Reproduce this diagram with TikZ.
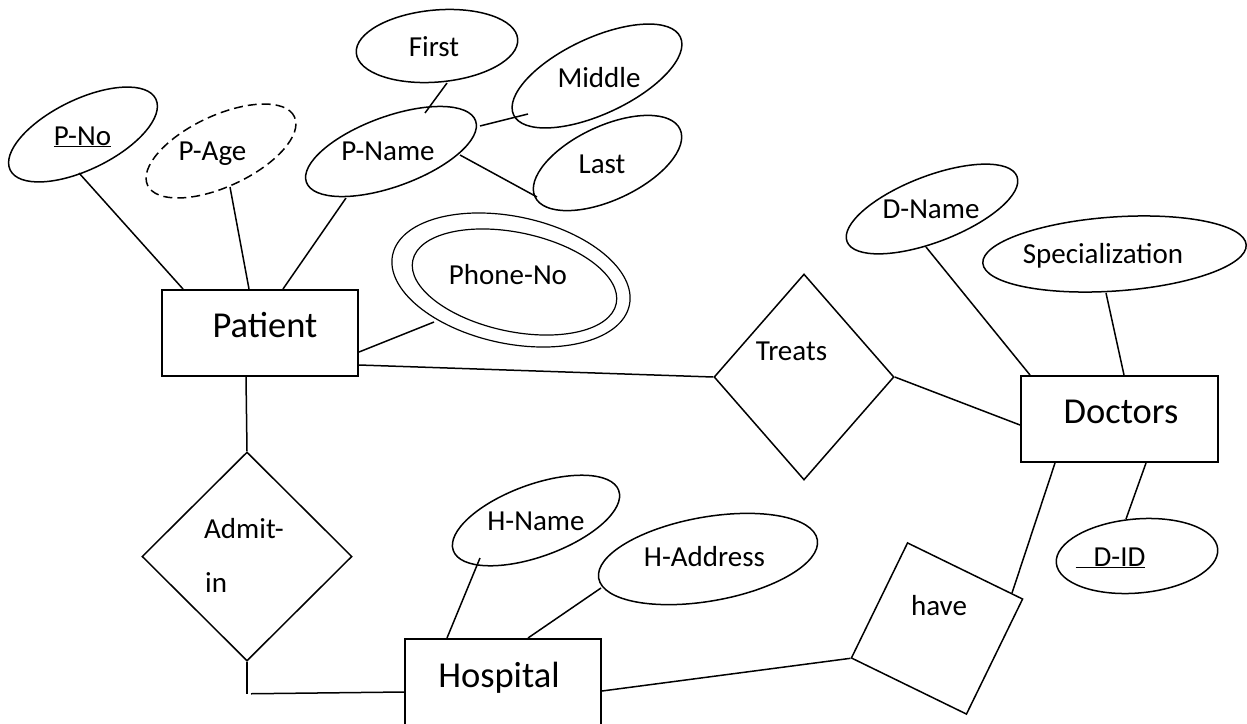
\documentclass[tikz,border=0pt]{standalone}
\usepackage{fontspec}
\setmainfont{Carlito}
\usetikzlibrary{shapes.geometric,calc}
\begin{document}
\begin{tikzpicture}[x=1pt,y=-1pt,
  conn/.style={line width=1.5pt},
  attr/.style={ellipse,draw,line width=1.5pt,inner sep=0pt},
  entity/.style={rectangle,draw,line width=2pt,inner sep=0pt},
  rel/.style={diamond,draw,line width=1.5pt,inner sep=0pt},
  small/.style={font=\fontsize{29pt}{34pt}\selectfont,inner sep=0pt,anchor=base},
  big/.style={font=\fontsize{36.5pt}{42pt}\selectfont,inner sep=0pt,anchor=base},
]
\clip (0,0) rectangle (1247,723);
\fill[white] (0,0) rectangle (1247,723);

% entities
\node[entity,minimum width=196pt,minimum height=86pt] (patient) at (260,333) {};
\node[entity,minimum width=197pt,minimum height=86pt] (doctors) at (1119.5,419) {};
\node[entity,minimum width=196pt,minimum height=120pt] (hospital) at (503,699) {};

% relationships
\node[rel,minimum width=180pt,minimum height=206pt] (treats) at (804,377) {};
\node[rel,minimum width=210pt,minimum height=209pt] (admit) at (247,556.5) {};
\node[draw,rectangle,line width=1.5pt,inner sep=0pt,minimum size=128pt,rotate=-26] (have) at (937,628.5) {};

% attributes
\node[attr,minimum width=162pt,minimum height=70pt,rotate=26] (pno) at (83,134.5) {};
\node[attr,dash pattern=on 9pt off 5pt,minimum width=162pt,minimum height=71pt,rotate=25] (page) at (221,151) {};
\node[attr,minimum width=180pt,minimum height=70pt,rotate=20] (pname) at (391,151.5) {};
\node[attr,minimum width=162pt,minimum height=72pt,rotate=5] (first) at (437,46) {};
\node[attr,minimum width=184pt,minimum height=76pt,rotate=25] (middle) at (597,76) {};
\node[attr,minimum width=160pt,minimum height=74pt,rotate=25] (last) at (607.5,163) {};
\node[ellipse,draw,line width=1.2pt,inner sep=0pt,minimum width=242pt,minimum height=127pt,rotate=-12] (phone) at (511,280) {};
\node[ellipse,draw,line width=1.2pt,inner sep=0pt,minimum width=208pt,minimum height=99pt,rotate=-12] (phonein) at (514.5,282) {};
\node[attr,minimum width=182pt,minimum height=66pt,rotate=21] (dname) at (932,209) {};
\node[attr,minimum width=264pt,minimum height=74pt,rotate=4] (spec) at (1114.5,254) {};
\node[attr,minimum width=176pt,minimum height=72pt,rotate=20] (hname) at (536,520.5) {};
\node[attr,minimum width=222pt,minimum height=84pt,rotate=10] (haddr) at (708,559) {};
\node[attr,minimum width=162pt,minimum height=74pt,rotate=5] (did) at (1137,556) {};

% labels
\node[big] (patient-t) at (265,337) {Patient};
\node[big] (doctors-t) at (1121,423) {Doctors};
\node[big] (hospital-t) at (499,687) {Hospital};
\node[small] (treats-t) at (791.5,360) {Treats};
\node[small,anchor=base west] (admit-t1) at (204,538) {Admit-};
\node[small,anchor=base west] (admit-t2) at (205,592) {in};
\node[small] (have-t) at (939,615) {have};
\node[small] (pno-t) at (82.5,145) {\underline{P-No}};
\node[small] (page-t) at (212.5,160) {P-Age};
\node[small] (pname-t) at (388,160) {P-Name};
\node[small] (first-t) at (434,56) {First};
\node[small] (middle-t) at (599,87) {Middle};
\node[small] (last-t) at (602,173) {Last};
\node[small] (phone-t) at (508,284) {Phone-No};
\node[small] (dname-t) at (931,218) {D-Name};
\node[small] (spec-t) at (1103,263) {Specialization};
\node[small] (did-t) at (1110.5,566) {\underline{\hspace{18pt}D-ID}};
\node[small] (hname-t) at (536,530) {H-Name};
\node[small] (haddr-t) at (704.5,566) {H-Address};

% connectors
\draw[conn] ($(pno.center)+(-4,38.5)$) -- ($(patient.north west)+(22,0)$);
\draw[conn] ($(page.center)+(9,36)$) -- ($(patient.north west)+(88,0)$);
\draw[conn] ($(pname.center)+(-45,46.5)$) -- ($(patient.north west)+(122,0)$);
\draw[conn] ($(first.center)+(10,37)$) -- ($(pname.center)+(34,-38.5)$);
\draw[conn] ($(pname.center)+(89,-25.5)$) -- ($(middle.center)+(-69,38)$);
\draw[conn] ($(pname.center)+(69,3.5)$) -- ($(last.center)+(-70.5,34)$);
\draw[conn] ($(patient.north east)+(0,63)$) -- ($(phone.center)+(-77,42)$);
\draw[conn] ($(patient.north east)+(0,76)$) -- (treats.west);
\draw[conn] ($(patient.south west)+(85,0)$) -- (admit.north);
\draw[conn] (admit.south) -- ++(0,32);
\draw[conn] ($(admit.south)+(4,32)$) -- ($(hospital.north west)+(0,54)$);
\draw[conn] ($(hname.center)+(-56,37.5)$) -- ($(hospital.north west)+(43,0)$);
\draw[conn] ($(haddr.center)+(-107,29)$) -- ($(hospital.north west)+(124,0)$);
\draw[conn] ($(hospital.north east)+(0,53)$) -- (have.south west);
\draw[conn] ($(have.center)+(75,-35.5)$) -- ($(doctors.south west)+(35,0)$);
\draw[conn] ($(did.center)+(-11,-37)$) -- ($(doctors.south west)+(126,0)$);
\draw[conn] (treats.east) -- ($(doctors.north west)+(0,50)$);
\draw[conn] ($(dname.center)+(-6,38)$) -- ($(doctors.north west)+(10,0)$);
\draw[conn] ($(spec.center)+(-8.5,39)$) -- ($(doctors.north west)+(104,0)$);
\end{tikzpicture}
\end{document}
